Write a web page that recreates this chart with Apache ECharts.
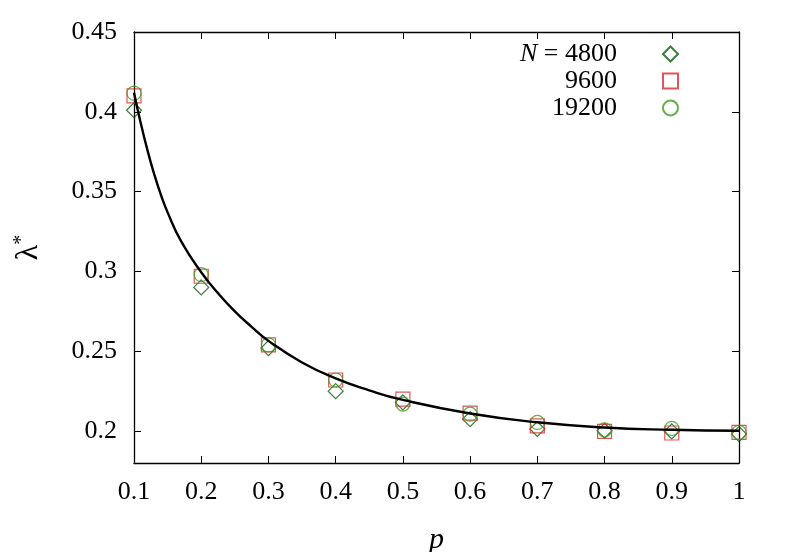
<!DOCTYPE html>
<html>
<head>
<meta charset="utf-8">
<script src="https://cdn.jsdelivr.net/npm/echarts@6/dist/echarts.min.js"></script>
<style>
  html, body { margin: 0; padding: 0; background: #fff; }
  #chart { width: 789px; height: 552px; }
</style>
</head>
<body>
<div id="chart"></div>
<script>
// data
const pValues = [0.1, 0.2, 0.3, 0.4, 0.5, 0.6, 0.7, 0.8, 0.9, 1.0]
const lam4800 = [0.401, 0.29, 0.252, 0.225, 0.218, 0.2075, 0.2013, 0.2002, 0.1998, 0.1981]
const lam9600 = [0.41, 0.297, 0.254, 0.232, 0.22, 0.2113, 0.2033, 0.1998, 0.1988, 0.1992]
const lam19200 = [0.4117, 0.298, 0.254, 0.232, 0.2169, 0.2106, 0.2054, 0.2008, 0.2017, 0.1992]

// fitted curve
const curveP = [0.1, 0.11, 0.12, 0.13, 0.14, 0.15, 0.17, 0.2, 0.225, 0.25, 0.275, 0.3, 0.35, 0.4, 0.45, 0.5, 0.6, 0.7, 0.8, 0.9, 1.0]
const curveLam = [0.412, 0.393, 0.376, 0.361, 0.348, 0.337, 0.319, 0.2995, 0.2864, 0.275, 0.2653, 0.2565, 0.243, 0.233, 0.2255, 0.2195, 0.211, 0.2055, 0.2022, 0.2008, 0.2002]

const xTicks = [0.1, 0.2, 0.3, 0.4, 0.5, 0.6, 0.7, 0.8, 0.9, 1]
const yTicks = [0.2, 0.25, 0.3, 0.35, 0.4, 0.45]

const font = 'Liberation Serif'
const zip = (xs, ys) => xs.map((x, i) => [x, ys[i]])

const chart = echarts.init(document.getElementById('chart'))

const axisBase = {
  min: 0.1,
  max: 1,
  axisLine: { show: true, onZero: false, lineStyle: { color: '#000', width: 1.3 } },
  splitLine: { show: false }
}

function legendFor (name, top) {
  return {
    data: [name],
    right: 105,
    top: top,
    align: 'right',
    itemWidth: 15,
    itemHeight: 15,
    selectedMode: false,
    formatter: function (n) {
      return n === '4800' ? '{i|N} = 4800' : n
    },
    textStyle: {
      fontFamily: font,
      fontSize: 26,
      color: '#000',
      padding: [0, 41, 0, 0],
      rich: {
        i: { fontFamily: font, fontSize: 26, fontStyle: 'italic', color: '#000' }
      }
    }
  }
}

function hollow (name, symbol, size, color, data) {
  return {
    name: name,
    type: 'scatter',
    symbol: symbol,
    symbolSize: size,
    data: data,
    itemStyle: { color: 'rgba(0,0,0,0)', borderColor: color, borderWidth: 1.2 }
  }
}

chart.setOption({
  animation: false,
  backgroundColor: '#fff',
  grid: { left: 134, right: 50, top: 32, bottom: 89, outerBoundsMode: 'none' },
  legend: [
    legendFor('4800', 36),
    legendFor('9600', 63),
    legendFor('19200', 90)
  ],
  xAxis: [
    Object.assign({}, axisBase, {
      type: 'value',
      position: 'bottom',
      name: 'p',
      nameLocation: 'middle',
      nameGap: 62,
      nameTextStyle: { fontFamily: font, fontSize: 30, fontStyle: 'italic', color: '#000' },
      axisTick: { inside: true, length: 7, customValues: xTicks, lineStyle: { color: '#000' } },
      axisLabel: { customValues: xTicks, margin: 16, fontFamily: font, fontSize: 26, color: '#000' }
    }),
    Object.assign({}, axisBase, {
      type: 'value',
      position: 'top',
      axisTick: { inside: true, length: 7, customValues: xTicks, lineStyle: { color: '#000' } },
      axisLabel: { show: false }
    })
  ],
  yAxis: [
    {
      type: 'value',
      position: 'left',
      min: 0.18,
      max: 0.45,
      name: '{l|λ}{s|*}',
      nameLocation: 'middle',
      nameGap: 88,
      nameTextStyle: {
        rich: {
          l: { fontFamily: font, fontSize: 32, color: '#000', lineHeight: 34 },
          s: { fontFamily: font, fontSize: 20, color: '#000', verticalAlign: 'top', lineHeight: 34 }
        }
      },
      axisLine: { show: true, onZero: false, lineStyle: { color: '#000', width: 1.3 } },
      splitLine: { show: false },
      axisTick: { inside: true, length: 7, customValues: yTicks, lineStyle: { color: '#000' } },
      axisLabel: { customValues: yTicks, margin: 17, fontFamily: font, fontSize: 26, color: '#000' }
    },
    {
      type: 'value',
      position: 'right',
      min: 0.18,
      max: 0.45,
      axisLine: { show: true, onZero: false, lineStyle: { color: '#000', width: 1.3 } },
      splitLine: { show: false },
      axisTick: { inside: true, length: 7, customValues: yTicks, lineStyle: { color: '#000' } },
      axisLabel: { show: false }
    }
  ],
  series: [
    hollow('4800', 'diamond', 15, '#0b5a0b', zip(pValues, lam4800)),
    hollow('9600', 'rect', 14, '#d82a2f', zip(pValues, lam9600)),
    hollow('19200', 'circle', 14, '#3c9c1c', zip(pValues, lam19200)),
    {
      name: 'fit',
      type: 'line',
      data: zip(curveP, curveLam),
      showSymbol: false,
      smooth: 0.5,
      lineStyle: { color: '#000', width: 2.4 },
      z: 5
    }
  ]
})
</script>
</body>
</html>
